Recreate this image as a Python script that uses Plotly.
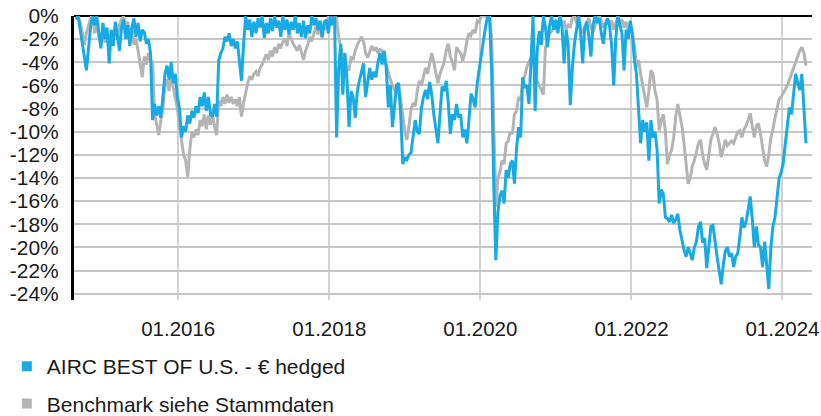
import pandas as pd
import plotly.graph_objects as go

# ---------------- data (drawdown in %) ----------------
start_date = "2014-08-25"
step_days = 10

fund_name = "AIRC BEST OF U.S. - € hedged"
bench_name = "Benchmark siehe Stammdaten"

fund_dd = [
    -0.3, 0, -1.2, -2.2, -3.5, -4.7, -2.5, -1.0, 0, -0.8,
    0, -1.5, -2.8, -0.6, -2.0, -1.0, -4.1, -1.2, -2.6, -0.5,
    -1.8, -3.0, -1.0, -0.3, -2.0, -0.8, -2.6, -1.0, -0.2, -1.8,
    -0.6, -2.2, -1.2, -1.4, -2.4, -2.0, -3.2, -9.0, -7.6, -8.6,
    -7.8, -8.8, -7.0, -5.0, -4.3, -5.5, -4.0, -5.8, -5.0, -7.0,
    -8.0, -10.5, -9.5, -10.0, -8.6, -9.3, -8.2, -8.8, -7.8, -8.4,
    -7.0, -7.8, -6.6, -8.2, -7.0, -8.5, -8.7, -7.6, -8.7, -3.8,
    -3.2, -2.8, -1.8, -2.2, -1.5, -2.6, -2.0, -2.8, -2.2, -3.8,
    -5.6, -2.5, 0, -1.2, -0.3, -1.8, -0.5, -1.5, -0.2, -1.0,
    0, -1.9, -0.6, -1.5, -0.2, -1.3, 0, -1.0, -0.4, -1.8,
    0, -1.2, -0.3, -1.6, -0.5, -1.2, 0, -1.5, -0.6, -1.8,
    -0.4, -1.9, -0.8, -1.5, 0, -0.8, -0.2, -1.2, -0.4, -1.8,
    -0.6, -0.3, -1.5, 0, -0.8, 0, -10.5, -4.5, -2.4, -6.8,
    -3.2, -5.5, -9.6, -6.5, -7.0, -8.8, -6.5, -5.6, -4.8, -4.1,
    -7.0, -5.8, -4.5, -5.5, -4.8, -5.3, -4.0, -3.2, -4.2, -3.0,
    -4.5, -7.9, -6.0, -9.6, -7.5, -6.0, -5.8, -8.5, -12.8, -12.2,
    -12.4, -12.0, -11.8, -10.5, -9.0, -10.0, -10.2, -8.0, -7.0, -6.4,
    -7.2, -5.7, -6.8, -8.5, -9.6, -11.0, -8.5, -6.1, -6.5, -5.6,
    -7.5, -10.2, -8.5, -9.0, -7.6, -8.8, -8.5, -10.5, -9.8, -11.0,
    -9.0, -6.7, -7.2, -7.9, -5.8, -4.4, -3.2, -2.1, -1.0, 0,
    -0.2, -5.0, -14.5, -21.1, -17.0, -15.5, -15.1, -16.2, -13.3, -14.0,
    -12.8, -12.5, -14.5, -11.5, -9.6, -10.5, -5.3, -6.2, -6.0, -7.6,
    -4.0, 0, -8.2, -3.0, -1.3, -2.5, 0, -1.0, -2.7, -0.8,
    0, -1.2, -0.3, -1.5, 0, -0.9, -4.1, -1.2, -2.5, -7.7,
    -4.5, -2.4, -1.2, 0, -1.5, -4.1, -1.0, -0.5, -1.8, -3.5,
    -0.8, 0, -0.6, -0.2, -1.5, -2.4, -0.8, -0.2, -0.9, -2.5,
    -6.0, -2.0, 0, -0.8, -1.5, -4.7, -1.2, -2.0, -0.4, -1.5,
    -3.8, -5.0, -8.1, -11.0, -9.0, -10.0, -9.2, -12.5, -9.0, -10.5,
    -10.0, -11.6, -16.2, -15.0, -15.4, -17.4, -17.5, -17.8, -17.2, -17.9,
    -17.6, -17.1, -18.5, -19.4, -20.2, -20.8, -20.0, -20.5, -21.1, -20.0,
    -19.5, -18.2, -17.8, -19.6, -19.2, -21.8, -20.0, -18.2, -18.1, -19.7,
    -20.8, -22.0, -23.2, -21.5, -20.3, -20.0, -20.8, -20.5, -21.7, -20.8,
    -20.5, -19.1, -17.4, -18.3, -17.8, -16.8, -15.6, -17.5, -20.0, -18.2,
    -19.8, -20.0, -21.7, -19.5, -21.5, -23.6, -20.0, -18.2, -17.4, -15.5,
    -14.0, -13.5, -12.7, -11.0, -9.2, -7.9, -8.5, -6.8, -5.0, -5.8,
    -6.4, -5.0, -8.0, -11.0,
]

bench_dd = [
    -0.3, 0, -0.5, -1.5, -2.5, -1.5, -0.8, -0.2, 0, -1.5,
    -0.5, -1.8, -2.5, -1.2, -2.3, -1.5, -3.0, -1.2, -2.0, -1.0,
    -1.8, -0.8, -0.3, 0, -1.0, -0.5, -2.0, -1.0, -2.5, -2.0,
    -3.0, -4.0, -5.3, -3.5, -4.2, -3.2, -3.8, -4.0, -8.5, -9.4,
    -10.3, -9.0, -8.0, -6.0, -5.5, -6.5, -5.0, -6.2, -7.0, -8.0,
    -9.5, -11.0, -12.0, -12.5, -13.9, -11.5, -10.0, -10.5, -9.8, -10.3,
    -9.0, -9.5, -8.5, -9.8, -8.6, -9.4, -8.5, -9.6, -10.3, -7.3,
    -7.8, -7.0, -7.6, -6.8, -7.5, -7.0, -7.6, -7.2, -7.8, -7.0,
    -8.7, -7.5, -6.5, -5.8, -5.2, -5.5, -5.0, -4.8, -5.2, -4.5,
    -4.2, -3.8, -3.3, -3.8, -3.0, -3.5, -2.7, -3.2, -2.4, -2.8,
    -2.2, -2.0, -2.6, -1.5, -2.0, -2.4, -2.7, -3.0, -2.5, -3.2,
    -3.8, -3.0, -2.5, -1.8, -2.2, -1.5, -0.95, -1.6, -0.8, -2.0,
    -0.4, -1.2, 0, -0.8, -0.3, 0, -0.2, -1.8, -2.7, -3.5,
    -4.0, -4.5, -4.7, -3.5, -3.8, -3.0, -2.5, -2.2, -1.8, -2.2,
    -3.2, -3.6, -3.0, -2.6, -3.0, -2.7, -3.2, -2.9, -3.0, -3.5,
    -4.2, -5.0, -5.5, -6.0, -6.4, -6.8, -6.2, -7.3, -8.5, -10.0,
    -10.7, -9.5, -8.1, -7.5, -7.8, -6.5, -5.6, -6.0, -5.2, -4.5,
    -5.0, -4.0, -3.2, -4.0, -5.0, -5.8, -5.0, -4.5, -4.0, -3.0,
    -2.4, -3.5, -4.0, -4.7, -2.7, -3.0, -3.2, -3.9, -3.2, -2.2,
    -1.5, -1.7, -1.2, -1.5, -0.4, -0.5, 0, 0, 0, 0,
    0, -2.0, -9.6, -16.5, -14.0, -13.5, -12.5, -12.8, -11.0, -10.8,
    -10.0, -10.2, -8.5, -8.2, -7.0, -7.3, -5.5, -5.2, -4.4, -4.0,
    -3.6, -3.8, -5.0, -5.6, -6.0, -6.5, -6.8, -2.7, -2.0, -1.5,
    -1.3, -1.0, -0.5, -0.7, 0, -0.8, -0.4, -1.2, -0.8, -1.0,
    -0.2, 0, -0.6, 0, -1.0, -1.5, -1.0, -0.5, -0.2, -1.0,
    -1.4, -0.8, -0.3, 0, -0.4, -1.0, -0.6, -0.2, -0.8, -0.4,
    -1.2, -0.5, 0, -0.6, -0.3, -1.0, -0.5, -1.2, -1.0, -1.5,
    -2.5, -4.4, -3.8, -5.0, -6.0, -7.0, -7.9, -6.5, -4.7, -5.0,
    -6.5, -7.3, -9.9, -9.0, -8.5, -10.0, -12.8, -12.0, -11.6, -10.5,
    -8.7, -7.6, -8.5, -9.5, -11.0, -12.5, -14.5, -14.0, -13.0, -12.5,
    -11.8, -11.0, -10.7, -12.0, -12.8, -13.3, -12.0, -10.7, -10.2, -9.6,
    -10.2, -11.0, -12.2, -11.5, -10.7, -11.2, -11.0, -10.8, -11.0, -10.4,
    -10.0, -9.9, -10.5, -9.8, -9.5, -9.0, -8.4, -9.5, -10.5, -9.5,
    -9.3, -10.2, -11.6, -12.5, -13.0, -12.0, -10.5, -9.8, -8.8, -8.0,
    -7.2, -7.0, -6.7, -6.3, -6.0, -5.5, -5.0, -4.5, -3.9, -3.5,
    -3.0, -2.7, -3.2, -4.3,
]

y_ticks = list(range(0, -26, -2))
y_tick_labels = [f"{v}%" for v in y_ticks]
x_tick_dates = ["2016-01-01", "2018-01-01", "2020-01-01", "2022-01-01", "2024-01-01"]
x_tick_labels = ["01.2016", "01.2018", "01.2020", "01.2022", "01.2024"]

# ---------------- styling ----------------
BLUE = "#17aae4"
GRAY = "#b4b4b4"
FONT = "Liberation Sans, Arial, sans-serif"

fund_dates = pd.date_range(start_date, periods=len(fund_dd), freq=f"{step_days}D")
bench_dates = pd.date_range(start_date, periods=len(bench_dd), freq=f"{step_days}D")

fig = go.Figure()
fig.add_trace(go.Scatter(x=bench_dates, y=bench_dd, mode="lines",
                         line=dict(color=GRAY, width=3), showlegend=False,
                         hoverinfo="skip"))
fig.add_trace(go.Scatter(x=fund_dates, y=fund_dd, mode="lines",
                         line=dict(color=BLUE, width=3), showlegend=False,
                         hoverinfo="skip"))
# legend entries with square swatches
fig.add_trace(go.Scatter(x=[None], y=[None], mode="markers", name=fund_name,
                         legendgroup="fund",
                         marker=dict(symbol="square", size=10, color=BLUE)))
fig.add_trace(go.Scatter(x=[None], y=[None], mode="markers", name=bench_name,
                         legendgroup="bench",
                         marker=dict(symbol="square", size=10, color=GRAY)))

fig.update_layout(
    width=821, height=416,
    margin=dict(l=74, r=9, t=16, b=116, autoexpand=False),
    paper_bgcolor="white", plot_bgcolor="white",
    font=dict(family=FONT, size=20, color="#1a1a1a"),
    legend=dict(x=-0.091, y=-0.162, xanchor="left", yanchor="top",
                orientation="v", traceorder="grouped", tracegroupgap=7,
                font=dict(size=21, color="#1a1a1a"),
                bgcolor="rgba(0,0,0,0)"),
    xaxis=dict(
        type="date",
        range=["2014-08-15", "2024-05-23"],
        tickvals=x_tick_dates, ticktext=x_tick_labels,
        showgrid=True, gridcolor="#d2d2d2", gridwidth=1.5,
        showline=False, zeroline=False, ticks="",
        ticklabelstandoff=14, automargin=False,
        ticklabeloverflow="allow",
        tickfont=dict(size=20.5),
    ),
    yaxis=dict(
        range=[-24.55, 0],
        tickvals=y_ticks, ticktext=y_tick_labels,
        showgrid=True, gridcolor="#c6c6c6", gridwidth=1.5,
        zeroline=True, zerolinecolor="black", zerolinewidth=2,
        showline=True, linecolor="black", linewidth=3,
        ticks="", ticklabelstandoff=8, automargin=False,
        ticklabeloverflow="allow",
        tickfont=dict(size=21),
    ),
)

# remove the default 8px page margin so the figure sits at the window origin
fig.write_html("out.html", config={"displayModeBar": False},
               post_script="document.body.style.margin='0px';")
